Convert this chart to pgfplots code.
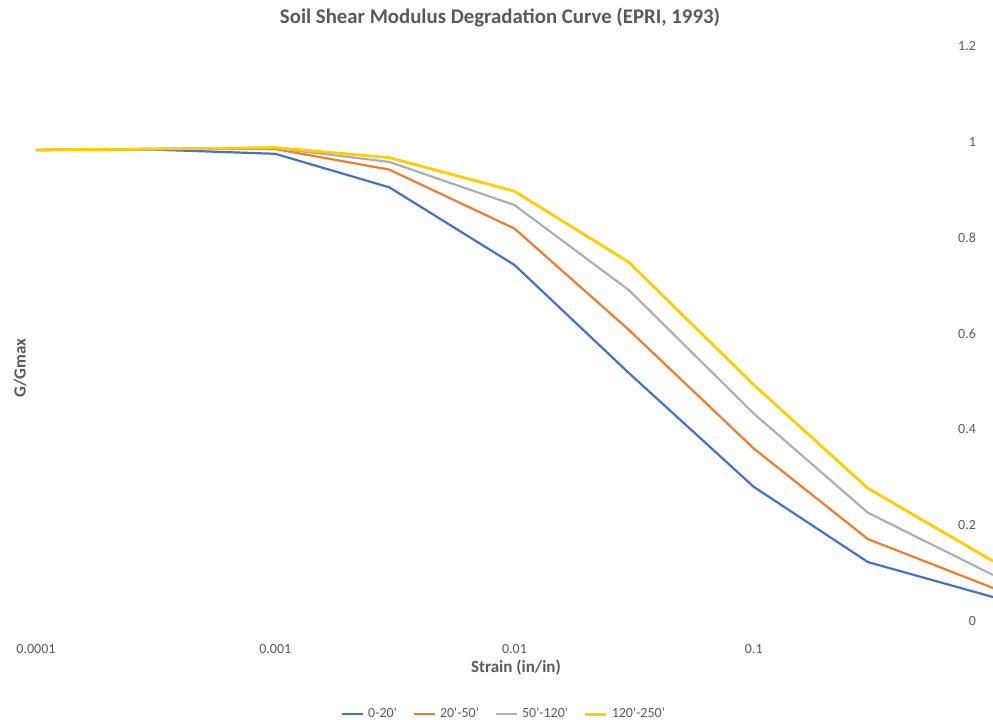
\documentclass[border=0pt]{standalone}
\usepackage{fontspec}
\setmainfont{Carlito}
\usepackage{pgfplots}
\pgfplotsset{compat=1.18}
\definecolor{sblue}{RGB}{68,114,196}
\definecolor{sorange}{RGB}{237,125,49}
\definecolor{sgray}{RGB}{175,175,175}
\definecolor{syellow}{RGB}{255,205,0}
\definecolor{txt}{RGB}{89,89,89}
\newcommand{\q}{\textquotesingle}
\begin{document}
\begin{tikzpicture}
\begin{axis}[
    scale only axis, width=478.5bp, height=287.5bp,
    xmode=log, xmin=1e-4, xmax=1, ymin=0, ymax=1.2,
    xtick={1e-4,1e-3,1e-2,1e-1},
    xticklabels={0.0001,0.001,0.01,0.1},
    xminorticks=false, yminorticks=false,
    ytick={0,0.2,0.4,0.6,0.8,1,1.2},
    yticklabels={0,0.2,0.4,0.6,0.8,1,1.2},
    yticklabel pos=right,
    axis line style={draw=none}, major tick length=0pt, minor tick length=0pt,
    /pgf/number format/assume math mode=true,
    tick label style={font=\fontsize{7bp}{8bp}\selectfont, text=txt},
    xticklabel style={yshift=-8bp},
    yticklabel style={anchor=east, xshift=-5bp},
    legend style={at={(0.49,-0.162)}, anchor=center, draw=none, fill=none,
        legend columns=4, font=\fontsize{7bp}{8bp}\selectfont, text=txt,
        /tikz/every even column/.append style={column sep=6bp}},
    legend image code/.code={\draw[#1] (0bp,0bp) -- (10.5bp,0bp);},
    clip=false]
\addplot[sblue, line width=1.1bp] coordinates {(1e-4,0.983) (3e-4,0.984) (1e-3,0.975) (3e-3,0.905) (1e-2,0.743) (3e-2,0.518) (1e-1,0.280) (3e-1,0.123) (1,0.050)};
\addplot[sorange, line width=1.1bp] coordinates {(1e-4,0.983) (3e-4,0.985) (1e-3,0.985) (3e-3,0.942) (1e-2,0.819) (3e-2,0.608) (1e-1,0.360) (3e-1,0.171) (1,0.069)};
\addplot[sgray, line width=1.1bp] coordinates {(1e-4,0.983) (3e-4,0.985) (1e-3,0.987) (3e-3,0.958) (1e-2,0.868) (3e-2,0.691) (1e-1,0.433) (3e-1,0.226) (1,0.096)};
\addplot[syellow, line width=1.4bp] coordinates {(1e-4,0.983) (3e-4,0.985) (1e-3,0.988) (3e-3,0.967) (1e-2,0.897) (3e-2,0.749) (1e-1,0.493) (3e-1,0.277) (1,0.125)};
\legend{0-20\q,20\q-50\q,50\q-120\q,120\q-250\q}
\end{axis}
\node[font=\bfseries\fontsize{10.4bp}{12bp}\selectfont, text=txt] at ([shift={(232bp,301.5bp)}]current axis.south west) {Soil Shear Modulus Degradation Curve (EPRI, 1993)};
\node[font=\bfseries\fontsize{8.5bp}{10bp}\selectfont, text=txt] at ([shift={(240bp,-23bp)}]current axis.south west) {Strain (in/in)};
\node[font=\bfseries\fontsize{8.5bp}{10bp}\selectfont, text=txt, rotate=90] at ([shift={(-8bp,126.5bp)}]current axis.south west) {G/Gmax};
\pgfresetboundingbox
\path[use as bounding box] ([shift={(-18bp,-49.5bp)}]current axis.south west) rectangle ([shift={(0bp,23bp)}]current axis.north east);
\end{tikzpicture}
\end{document}
